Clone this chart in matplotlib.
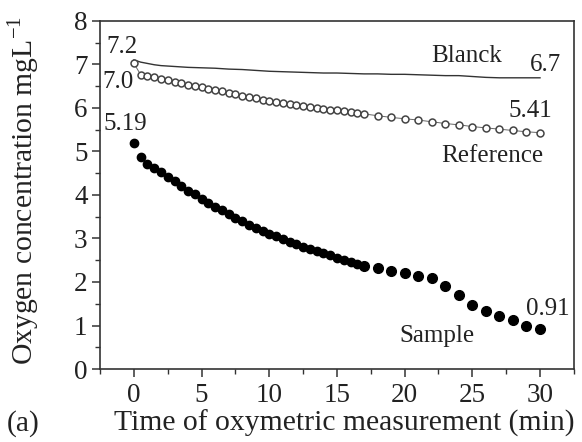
import matplotlib
matplotlib.use("Agg")
import matplotlib.pyplot as plt
from matplotlib.ticker import MultipleLocator

# ---- data ----
blank_t = [0, 0.5, 1, 1.5, 2, 3, 4, 5, 6, 7, 8, 9, 10, 11, 12, 13, 14, 15, 16, 17,
           18, 19, 20, 21, 22, 23, 24, 25, 26, 27, 28, 29, 30]
blank_v = [7.10, 7.05, 7.02, 6.99, 6.97, 6.95, 6.93, 6.92, 6.91, 6.89, 6.88, 6.86, 6.84,
           6.83, 6.82, 6.81, 6.80, 6.80, 6.79, 6.78, 6.78, 6.77, 6.77, 6.76, 6.75, 6.74,
           6.74, 6.72, 6.70, 6.69, 6.69, 6.69, 6.69]

ref_t = [0, 0.5, 1, 1.5, 2, 2.5, 3, 3.5, 4, 4.5, 5, 5.5, 6, 6.5, 7, 7.5, 8, 8.5, 9, 9.5,
         10, 10.5, 11, 11.5, 12, 12.5, 13, 13.5, 14, 14.5, 15, 15.5, 16, 16.5, 17,
         18, 19, 20, 21, 22, 23, 24, 25, 26, 27, 28, 29, 30]
ref_v = [7.02, 6.76, 6.73, 6.70, 6.67, 6.64, 6.60, 6.57, 6.53, 6.50, 6.47, 6.44, 6.41,
         6.38, 6.34, 6.31, 6.28, 6.25, 6.22, 6.19, 6.16, 6.14, 6.11, 6.09, 6.07, 6.04,
         6.02, 6.00, 5.98, 5.96, 5.94, 5.92, 5.90, 5.88, 5.86,
         5.82, 5.78, 5.75, 5.72, 5.68, 5.64, 5.61, 5.57, 5.54, 5.51, 5.48, 5.45, 5.43]

sample_t = [0, 0.5, 1, 1.5, 2, 2.5, 3, 3.5, 4, 4.5, 5, 5.5, 6, 6.5, 7, 7.5, 8, 8.5, 9,
            9.5, 10, 10.5, 11, 11.5, 12, 12.5, 13, 13.5, 14, 14.5, 15, 15.5, 16, 16.5,
            17, 18, 19, 20, 21, 22, 23, 24, 25, 26, 27, 28, 29, 30]
sample_v = [5.19, 4.87, 4.72, 4.62, 4.52, 4.42, 4.31, 4.20, 4.10, 4.01, 3.91, 3.82, 3.73,
            3.65, 3.57, 3.48, 3.40, 3.31, 3.24, 3.17, 3.11, 3.05, 2.99, 2.93, 2.87, 2.81,
            2.76, 2.71, 2.66, 2.61, 2.56, 2.51, 2.47, 2.42,
            2.37, 2.32, 2.26, 2.21, 2.14, 2.10, 1.91, 1.71, 1.48, 1.34, 1.23, 1.12, 1.00, 0.91]

x_ticks = [0, 5, 10, 15, 20, 25, 30]
y_ticks = [0, 1, 2, 3, 4, 5, 6, 7, 8]

plt.rcParams['font.family'] = ['Liberation Serif', 'DejaVu Serif']
plt.rcParams['mathtext.fontset'] = 'custom'
plt.rcParams['mathtext.rm'] = 'Liberation Serif'
FS_ANN = 18
FS_TICK = 19.5
FS_LAB = 21.3
TXT = '#222222'

fig = plt.figure(figsize=(5.82, 4.42), dpi=100)
ax = fig.add_axes([0.172, 0.165, 0.814, 0.788])

ax.plot(blank_t, blank_v, color='#333333', lw=1.0)
ax.plot(ref_t, ref_v, color='#666666', lw=0.7, marker='o', markersize=5,
        markerfacecolor='white', markeredgecolor='#444444', markeredgewidth=1.1)
n_dense = 34
ax.plot(sample_t[:n_dense], sample_v[:n_dense], lw=0, marker='o', markersize=6,
        markerfacecolor='black', markeredgecolor='black')
ax.plot(sample_t[n_dense:], sample_v[n_dense:], lw=0, marker='o', markersize=7,
        markerfacecolor='black', markeredgecolor='black')

ax.set_xlim(-2.5, 32.5)
ax.set_ylim(0, 8)
ax.set_xticks(x_ticks)
ax.set_yticks(y_ticks)
ax.xaxis.set_minor_locator(MultipleLocator(2.5))
ax.yaxis.set_minor_locator(MultipleLocator(0.5))
ax.tick_params(which='major', direction='out', length=6, width=1.1, labelsize=FS_TICK,
               color='#333333', labelcolor=TXT)
ax.tick_params(axis='x', which='major', pad=4)
ax.tick_params(axis='y', which='major', pad=3)
ax.tick_params(which='minor', direction='out', length=3.5, width=1.0, color='#333333')
for s in ax.spines.values():
    s.set_linewidth(1.2)
    s.set_color('#333333')

kw = dict(fontsize=FS_ANN, ha='center', va='center', color=TXT)
ax.text(-0.9, 7.40, '7.2', **kw)
ax.text(-1.2, 6.60, '7.0', **kw)
ax.text(-0.65, 5.62, '5.19', **kw)
ax.text(24.6, 7.20, 'Blanck', **kw)
ax.text(30.4, 6.99, '6.7', **kw)
ax.text(29.3, 5.92, '5.41', **kw)
ax.text(26.5, 4.90, 'Reference', **kw)
ax.text(22.4, 0.75, 'Sample', **kw)
ax.text(30.6, 1.39, '0.91', **kw)

fig.text(0.592, 0.026, 'Time of oxymetric measurement (min)', fontsize=FS_LAB,
         ha='center', va='baseline', color=TXT)
fig.text(0.040, 0.026, '(a)', fontsize=FS_LAB, ha='center', va='baseline', color=TXT)
fig.text(0.040, 0.57, 'Oxygen concentration mgL$^{\\mathrm{-1}}$', fontsize=FS_LAB,
         rotation=90, ha='center', va='center', color=TXT)

fig.savefig('out.png', dpi=100)
